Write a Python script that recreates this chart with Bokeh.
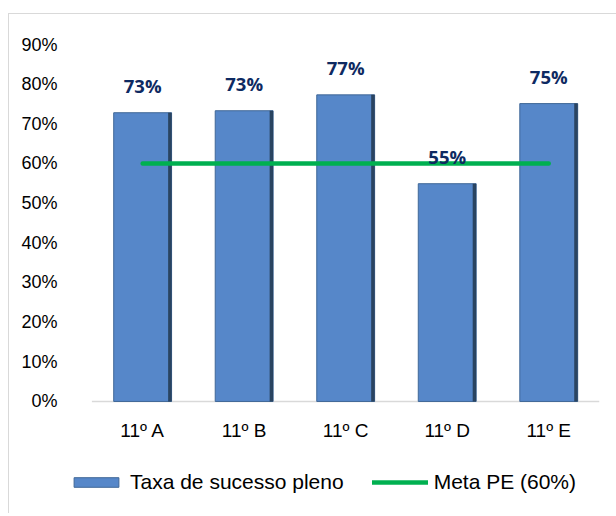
from bokeh.plotting import figure
from bokeh.models import (ColumnDataSource, Range1d, FixedTicker, NumeralTickFormatter,
                          Legend, LegendItem)
from bokeh.transform import dodge
from bokeh.core.properties import value
from bokeh.embed import file_html
from bokeh.resources import INLINE

categories = ["11º A", "11º B", "11º C", "11º D", "11º E"]
taxa_sucesso = [0.728, 0.733, 0.773, 0.549, 0.751]
meta_pe = [0.60, 0.60, 0.60, 0.60, 0.60]
y_ticks = [0.0, 0.1, 0.2, 0.3, 0.4, 0.5, 0.6, 0.7, 0.8, 0.9]

positions = list(range(len(categories)))
labels = [f"{round(v * 100)}%" for v in taxa_sucesso]
base = [y_ticks[0]] * len(categories)

src = ColumnDataSource(dict(x=positions, cat=categories, taxa=taxa_sucesso,
                            meta=meta_pe, lab=labels, base=base))

FONT = "Liberation Sans"
BFONT = "Open Sans"

p = figure(x_range=Range1d(-0.75, 4.5), y_range=Range1d(-0.285, 0.9),
           width=608, height=500, x_axis_location=None,
           output_backend="svg", toolbar_location=None,
           min_border_left=57, min_border_right=18, min_border_top=30, min_border_bottom=0)
p.margin = (13, 0, 0, 8)
p.styles = {"border-left": "1px solid #D9D9D9", "border-top": "1px solid #D9D9D9"}
p.outline_line_color = None
p.xgrid.visible = False
p.ygrid.visible = False
p.background_fill_color = "white"
p.border_fill_color = "white"

# category axis line (band edges of first/last category)
p.segment(x0=positions[0] - 0.5, x1=positions[-1] + 0.5, y0=y_ticks[0], y1=y_ticks[0],
          line_color="#D9D9D9", line_width=1.5)

bars = p.vbar(x="x", top="taxa", width=0.57, source=src,
              fill_color="#5687C9", line_color="#3F6797", line_width=1)
# darker bevel edge on the right side of each bar
p.vbar(x=dodge("x", 0.268), top="taxa", width=0.034, source=src,
       fill_color="#22384F", line_color=None, fill_alpha=0.85)

meta = p.line(x="x", y="meta", source=src, line_color="#00B050", line_width=4.5,
              line_cap="round")

# data labels
p.text(x="x", y="taxa", text="lab", source=src, text_align="center",
       text_baseline="alphabetic", y_offset=-27, text_font=value(BFONT),
       text_font_style="bold", text_font_size="18.5px", text_color="#0E2A62")

# category labels
p.text(x="x", y="base", text="cat", source=src, text_align="center",
       text_baseline="alphabetic", y_offset=29, text_font=value(FONT),
       text_font_size="19px", text_color="black")

yax = p.yaxis[0]
yax.ticker = FixedTicker(ticks=y_ticks)
yax.formatter = NumeralTickFormatter(format="0%")
yax.axis_line_color = None
yax.major_tick_line_color = None
yax.minor_tick_line_color = None
yax.major_label_standoff = 3
yax.major_label_text_font = FONT
yax.major_label_text_font_size = "18px"
yax.major_label_text_color = "black"

legend = Legend(items=[LegendItem(label="Taxa de sucesso pleno", renderers=[bars]),
                       LegendItem(label="Meta PE (60%)", renderers=[meta])],
                orientation="horizontal", location=(2, 20),
                glyph_width=56, glyph_height=12, label_standoff=6, spacing=28,
                padding=0, margin=0, border_line_color=None, background_fill_alpha=0,
                label_text_font=FONT, label_text_font_size="21px", label_text_color="black",
                label_height=20)
p.add_layout(legend, "center")

open("out.html", "w").write(file_html(p, INLINE))
